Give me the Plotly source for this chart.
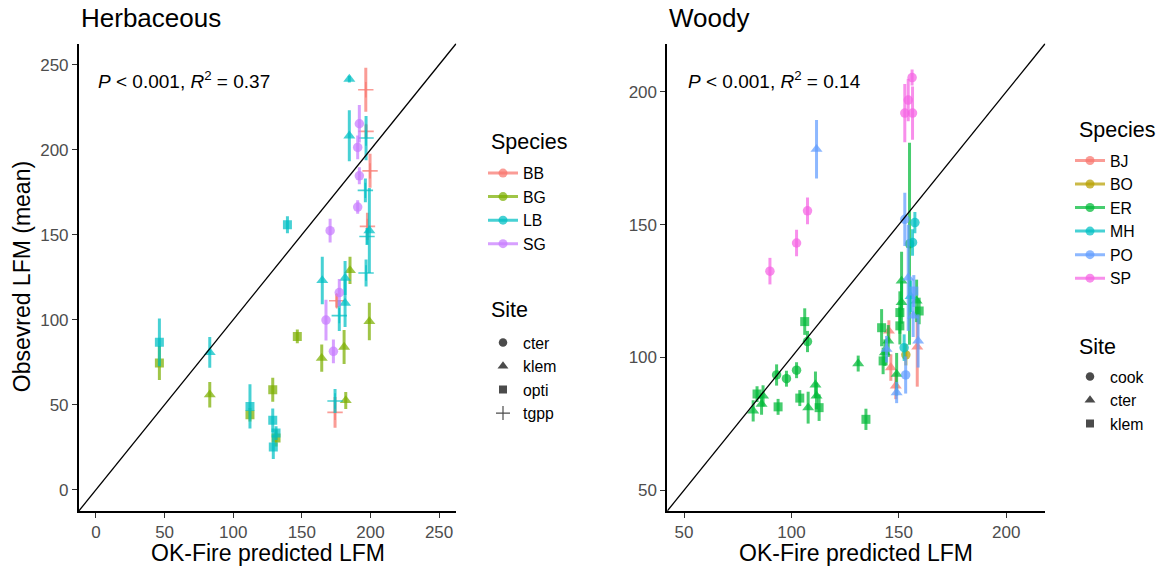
import plotly.graph_objects as go

FONT = "Liberation Sans, Arial, sans-serif"

# ---------------- Herbaceous data (x = OK-Fire predicted, y = observed mean, e = error) ----
herb_species = ["BB", "BG", "LB", "SG"]
herb_colors = ["#F8766D", "#7CAE00", "#00BFC4", "#C77CFF"]
herb_sites = ["cter", "klem", "opti", "tgpp"]

BB_site = ["tgpp", "tgpp", "tgpp", "tgpp", "tgpp", "tgpp"]
BB_x = [196.6, 196.8, 199.7, 197.8, 175.4, 174.2]
BB_y = [235.3, 210.8, 187.6, 154.9, 111.2, 45.5]
BB_e = [13, 4, 10, 8, 4, 9]

BG_site = ["klem", "klem", "klem", "klem", "klem", "klem", "opti", "opti", "opti", "opti", "opti"]
BG_x = [185.1, 199.2, 180.8, 164.5, 182.0, 82.9, 146.7, 46.2, 112.2, 128.8, 131.2]
BG_y = [129.0, 99.0, 83.9, 77.4, 52.5, 55.9, 90.2, 74.5, 44.1, 58.8, 30.4]
BG_e = [8, 11, 10, 8, 5, 7.5, 4, 10, 4, 7, 5]

LB_site = ["klem", "klem", "klem", "klem", "klem", "klem", "klem",
           "opti", "opti", "opti", "opti", "opti", "opti",
           "tgpp", "tgpp", "tgpp", "tgpp", "tgpp", "tgpp"]
LB_x = [184.6, 184.6, 199.2, 164.9, 181.5, 181.5, 82.9,
        139.5, 46.2, 112.2, 128.8, 131.2, 129.2,
        196.8, 196.3, 197.5, 196.8, 177.3, 174.2]
LB_y = [241.6, 208.2, 152.5, 123.1, 124.5, 109.8, 80.8,
        155.9, 86.7, 49.0, 40.8, 33.3, 25.1,
        206.9, 176.1, 149.0, 127.5, 102.4, 52.2]
LB_e = [2, 15, 25, 14, 10, 14, 9,
        5, 14, 13, 7, 4, 7,
        13, 7, 5, 8, 9, 7]

SG_site = ["cter"] * 8
SG_x = [191.9, 190.7, 191.9, 190.7, 170.6, 177.3, 167.6, 173.0]
SG_y = [215.3, 201.4, 184.7, 166.3, 152.4, 116.0, 99.8, 81.4]
SG_e = [11, 7, 5, 4, 7, 8, 12, 7]

# ---------------- Woody data ----
wood_species = ["BJ", "BO", "ER", "MH", "PO", "SP"]
wood_colors = ["#F8766D", "#B79F00", "#00BA38", "#00BFC4", "#619CFF", "#F564E3"]
wood_sites = ["cook", "cter", "klem"]

BJ_site = ["cter", "cter", "cter", "cter"]
BJ_x = [145.4, 146.3, 148.6, 158.6]
BJ_y = [110.0, 96.2, 89.3, 104.0]
BJ_e = [4, 5, 5, 15]

BO_site = ["cook"]
BO_x = [153.3]
BO_y = [101.0]
BO_e = [4]

ER_site = ["cook"] * 5 + ["cter"] * 13 + ["klem"] * 11
ER_x = [107.5, 93.1, 97.7, 102.4, 155.0,
        131.1, 111.2, 111.7, 107.8, 86.8, 86.1, 82.2, 151.3, 151.3, 158.3, 145.1, 143.5, 149.0,
        106.2, 103.9, 112.9, 93.8, 84.0, 134.7, 150.5, 150.5, 142.0, 159.5, 142.7]
ER_y = [106.0, 93.4, 92.0, 95.2, 142.8,
        97.7, 89.7, 85.5, 81.1, 85.5, 82.4, 79.9, 128.8, 120.7, 121.3, 106.2, 101.8, 93.7,
        113.5, 84.7, 81.1, 81.4, 86.2, 76.7, 116.9, 111.9, 111.2, 117.5, 98.7]
ER_e = [4, 4, 3, 3, 38,
        3, 5, 5, 6, 4, 4, 4, 11, 8, 8, 6, 5, 8,
        5, 3, 5, 3, 3, 4, 8, 7, 7, 5, 5]

MH_site = ["cook", "cook", "cook", "cter"]
MH_x = [157.5, 156.4, 152.5, 155.5]
MH_y = [150.8, 143.3, 103.7, 123.0]
MH_e = [4, 5, 5, 6]

PO_site = ["cter", "cter", "cter", "cter", "cter", "cter", "cook", "cook", "klem"]
PO_x = [111.7, 144.3, 149.0, 156.7, 159.0, 154.4, 153.2, 152.8, 157.0]
PO_y = [178.4, 103.1, 86.8, 115.7, 106.2, 130.0, 93.4, 152.0, 125.0]
PO_e = [11, 5, 4, 8, 10, 20, 7, 10, 6]

SP_site = ["cook"] * 7
SP_x = [156.2, 154.4, 152.8, 156.4, 107.5, 102.4, 90.0]
SP_y = [205.4, 196.9, 192.0, 192.0, 155.2, 143.1, 132.5]
SP_e = [3, 8, 11, 10, 5, 5, 5]

herb_data = {"BB": (BB_x, BB_y, BB_e, BB_site), "BG": (BG_x, BG_y, BG_e, BG_site),
             "LB": (LB_x, LB_y, LB_e, LB_site), "SG": (SG_x, SG_y, SG_e, SG_site)}
wood_data = {"BJ": (BJ_x, BJ_y, BJ_e, BJ_site), "BO": (BO_x, BO_y, BO_e, BO_site),
             "ER": (ER_x, ER_y, ER_e, ER_site), "MH": (MH_x, MH_y, MH_e, MH_site),
             "PO": (PO_x, PO_y, PO_e, PO_site), "SP": (SP_x, SP_y, SP_e, SP_site)}

herb_range = [-12.5, 262.5]
wood_range = [42.2, 218.2]
herb_ticks = [0, 50, 100, 150, 200, 250]
wood_ticks = [50, 100, 150, 200]

herb_sym = {"cter": "circle", "klem": "triangle-up", "opti": "square", "tgpp": "cross-thin"}
wood_sym = {"cook": "circle", "cter": "triangle-up", "klem": "square"}
sym_size = {"circle": 9.5, "triangle-up": 10.5, "square": 9, "cross-thin": 11}

ALPHA = 0.72
W, H = 1168, 569


def rgba(hexc, a):
    h = hexc.lstrip("#")
    r, g, b = int(h[0:2], 16), int(h[2:4], 16), int(h[4:6], 16)
    return f"rgba({r},{g},{b},{a})"


def px_x(p):
    return p / W


def px_y(p):
    return 1 - p / H


fig = go.Figure()


def add_panel(data, species, colors, sites, symmap, xa, ya):
    for sp, col in zip(species, colors):
        xs, ys, es, ss = data[sp]
        for site in sites:
            idx = [i for i, s in enumerate(ss) if s == site]
            if not idx:
                continue
            sym = symmap[site]
            c = rgba(col, ALPHA)
            marker = dict(symbol=sym, size=sym_size[sym], color=c,
                          line=dict(width=1.6 if sym == "cross-thin" else 0, color=c))
            fig.add_trace(go.Scatter(
                x=[xs[i] for i in idx], y=[ys[i] for i in idx],
                error_y=dict(type="data", array=[es[i] for i in idx], visible=True,
                             color=c, thickness=3, width=0),
                mode="markers", marker=marker, showlegend=False,
                xaxis=xa, yaxis=ya, hoverinfo="x+y"))


add_panel(herb_data, herb_species, herb_colors, herb_sites, herb_sym, "x", "y")
add_panel(wood_data, wood_species, wood_colors, wood_sites, wood_sym, "x2", "y2")


def add_species_legend(species, colors, leg):
    for sp, col in zip(species, colors):
        c = rgba(col, ALPHA)
        fig.add_trace(go.Scatter(x=[None], y=[None], mode="lines+markers", name=sp,
                                 marker=dict(color=c, size=9), line=dict(color=c, width=3),
                                 legend=leg, showlegend=True))


def add_site_legend(sites, symmap, leg):
    for s in sites:
        sym = symmap[s]
        c = "rgba(30,30,30,0.8)"
        fig.add_trace(go.Scatter(x=[None], y=[None], mode="markers", name=s,
                                 marker=dict(symbol=sym, color=c, size=sym_size[sym] - 1,
                                             line=dict(width=1.2 if sym == "cross-thin" else 0, color=c)),
                                 legend=leg, showlegend=True))


add_species_legend(herb_species, herb_colors, "legend")
add_site_legend(herb_sites, herb_sym, "legend2")
add_species_legend(wood_species, wood_colors, "legend3")
add_site_legend(wood_sites, wood_sym, "legend4")

# y = x reference lines
for xr, yr, rng in (("x", "y", herb_range), ("x2", "y2", wood_range)):
    fig.add_shape(type="line", xref=xr, yref=yr, x0=rng[0], y0=rng[0], x1=rng[1], y1=rng[1],
                  line=dict(color="black", width=1.3), layer="above")

ax_common = dict(showline=True, linecolor="black", linewidth=1.7, ticks="outside", ticklen=5,
                 tickwidth=1.2, tickcolor="#333333", showgrid=False, zeroline=False,
                 tickfont=dict(family=FONT, size=17, color="#4D4D4D"))

ydom = [0.102, 0.9235]
LEGFONT = dict(size=15.8, family=FONT)


def leg(xp, yp):
    return dict(x=px_x(xp), y=px_y(yp), xanchor="left", yanchor="top", font=LEGFONT,
                bgcolor="rgba(0,0,0,0)", tracegroupgap=0, borderwidth=0)


fig.update_layout(
    width=W, height=H, margin=dict(l=0, r=0, t=0, b=0),
    plot_bgcolor="white", paper_bgcolor="white",
    font=dict(family=FONT, color="black"),
    xaxis=dict(domain=[0.0675, 0.3906], range=herb_range, tickvals=herb_ticks, anchor="y", **ax_common),
    yaxis=dict(domain=ydom, range=herb_range, tickvals=herb_ticks, anchor="x", **ax_common),
    xaxis2=dict(domain=[0.5713, 0.8949], range=wood_range, tickvals=wood_ticks, anchor="y2", **ax_common),
    yaxis2=dict(domain=ydom, range=wood_range, tickvals=wood_ticks, anchor="x2", **ax_common),
    legend=leg(483, 156.3),
    legend2=leg(483, 325.7),
    legend3=leg(1070, 143.7),
    legend4=leg(1070, 359.7),
    showlegend=True,
)


def txt(text, xp, yp, size, xanchor="left", angle=0):
    return dict(text=text, x=px_x(xp), y=px_y(yp), xref="paper", yref="paper", xanchor=xanchor,
                yanchor="middle", showarrow=False, textangle=angle, font=dict(size=size, family=FONT))


ann = [
    txt("Herbaceous", 79, 18, 26),
    txt("Woody", 667, 18, 26),
    txt("<i>P</i> < 0.001, <i>R</i><sup>2</sup> = 0.37", 96, 80, 19),
    txt("<i>P</i> < 0.001, <i>R</i><sup>2</sup> = 0.14", 685.5, 80, 19),
    txt("OK-Fire predicted LFM", (78.85 + 456.2) / 2, 553, 23, "center"),
    txt("OK-Fire predicted LFM", (667.3 + 1045.2) / 2, 553, 23, "center"),
    txt("Obsevred LFM (mean)", 22, (511 + 43.5) / 2, 23, "center", -90),
    txt("Species", 489, 141.7, 21.5),
    txt("Site", 489, 310, 21.5),
    txt("Species", 1077, 130, 21.5),
    txt("Site", 1077, 347, 21.5),
]
fig.update_layout(annotations=ann)

fig.write_html("out.html")
